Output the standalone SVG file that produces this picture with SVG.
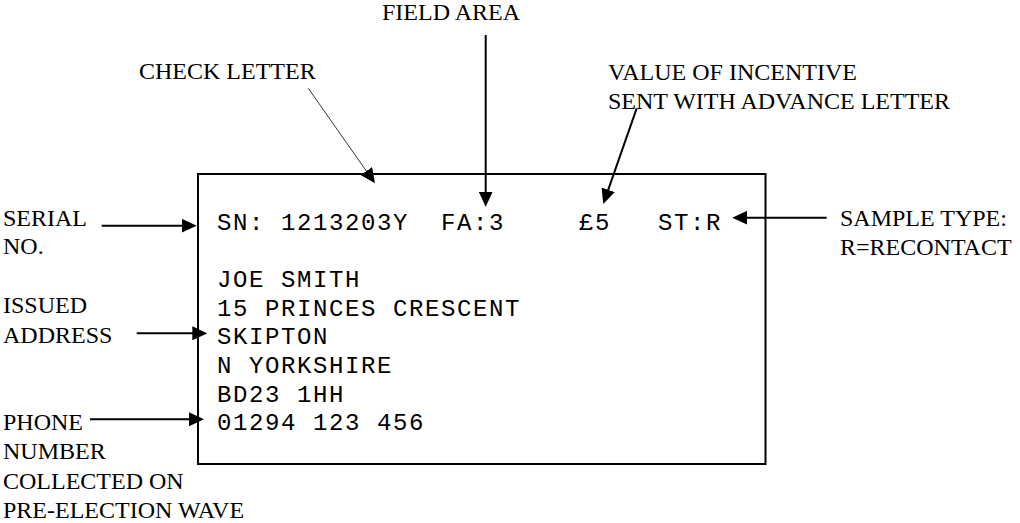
<svg xmlns="http://www.w3.org/2000/svg" width="1020" height="523" viewBox="0 0 1020 523">
<style>
.lbl{font-family:"Liberation Serif","Times New Roman",serif;font-size:24px;fill:#000}
.mono{font-family:"Liberation Mono","Courier New",monospace;font-size:24px;letter-spacing:1.6px;fill:#000;white-space:pre}
.ln{stroke:#000;stroke-width:2;fill:none}
.thin{stroke:#000;stroke-width:0.8;fill:none}
</style>
<defs>
<marker id="ah" viewBox="0 0 15 14" refX="7" refY="7" markerWidth="15" markerHeight="14" markerUnits="userSpaceOnUse" orient="auto">
<path d="M0,0 L15,7 L0,14 Z" fill="#000"/>
</marker>
</defs>
<rect width="1020" height="523" fill="#fff"/>
<g id="card">
<rect x="198" y="174" width="567.5" height="290" fill="none" stroke="#000" stroke-width="2"/>
<text class="mono" x="217" y="229.5" xml:space="preserve">SN: 1213203Y  FA:3</text>
<text class="mono" x="579" y="229.5">£5</text>
<text class="mono" x="658" y="229.5">ST:R</text>
<text class="mono" x="217" y="287">JOE SMITH</text>
<text class="mono" x="217" y="315.7">15 PRINCES CRESCENT</text>
<text class="mono" x="217" y="344.4">SKIPTON</text>
<text class="mono" x="217" y="373">N YORKSHIRE</text>
<text class="mono" x="217" y="401.7">BD23 1HH</text>
<text class="mono" x="217" y="430.4">01294 123 456</text>
</g>
<g id="label-field-area"><text class="lbl" x="451" y="20" text-anchor="middle">FIELD AREA</text></g>
<g id="label-check-letter"><text class="lbl" x="139" y="79.3">CHECK LETTER</text></g>
<g id="label-incentive">
<text class="lbl" x="608" y="80">VALUE OF INCENTIVE</text>
<text class="lbl" x="608" y="109.3">SENT WITH ADVANCE LETTER</text>
</g>
<g id="label-serial">
<text class="lbl" x="3" y="225.5">SERIAL</text>
<text class="lbl" x="3" y="254">NO.</text>
</g>
<g id="label-address">
<text class="lbl" x="3" y="313.3">ISSUED</text>
<text class="lbl" x="3" y="342.7">ADDRESS</text>
</g>
<g id="label-phone">
<text class="lbl" x="3" y="430">PHONE</text>
<text class="lbl" x="3" y="459.3">NUMBER</text>
<text class="lbl" x="3" y="489">COLLECTED ON</text>
<text class="lbl" x="3" y="518.3">PRE-ELECTION WAVE</text>
</g>
<g id="label-sample-type">
<text class="lbl" x="840" y="225.7">SAMPLE TYPE:</text>
<text class="lbl" x="840" y="255">R=RECONTACT</text>
</g>
<g id="connectors">
<line class="ln" x1="485.7" y1="35" x2="485.7" y2="198.7" marker-end="url(#ah)"/>
<line class="thin" x1="308.3" y1="88.3" x2="370.4" y2="176.8" marker-end="url(#ah)"/>
<line class="ln" x1="636.7" y1="108.3" x2="605.9" y2="196.4" marker-end="url(#ah)"/>
<line class="ln" x1="101.7" y1="225.7" x2="188.7" y2="225.7" marker-end="url(#ah)"/>
<line class="ln" x1="136.7" y1="333.3" x2="199.3" y2="333.3" marker-end="url(#ah)"/>
<line class="ln" x1="90" y1="419.3" x2="196" y2="419.3" marker-end="url(#ah)"/>
<line class="ln" x1="826.7" y1="217.7" x2="740.3" y2="217.7" marker-end="url(#ah)"/>
</g>
</svg>
